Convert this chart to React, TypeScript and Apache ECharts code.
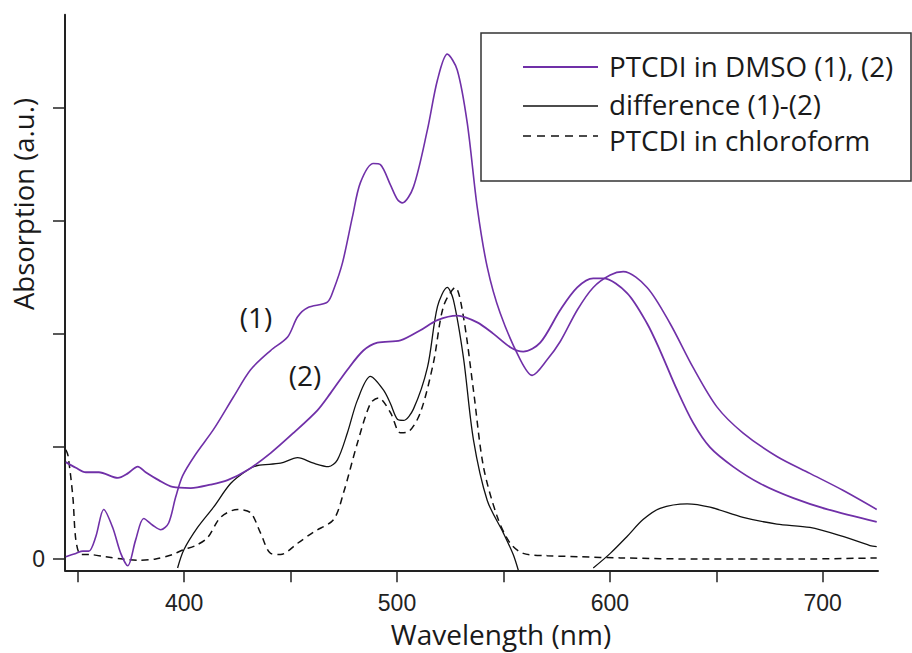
import React, { useEffect, useRef } from "react";
import * as echarts from "echarts";

// Wavelength (nm) / absorption (a.u.) pairs
const dmso1: [number, number][] = [
  [344.4, 0.02], [349.1, 0.05], [352.4, 0.07], [355.2, 0.07], [358.5, 0.2], [362.2, 0.44],
  [366.4, 0.28], [370.2, 0.05], [373.5, -0.06], [377.2, 0.17], [381.0, 0.36], [385.2, 0.3],
  [389.0, 0.26], [392.7, 0.32], [396.0, 0.55], [399.3, 0.74], [405.4, 0.93], [413.8, 1.15],
  [423.2, 1.44], [431.2, 1.68], [440.6, 1.85], [448.6, 1.97], [453.3, 2.15], [458.0, 2.23],
  [467.3, 2.28], [470.2, 2.39], [474.4, 2.63], [479.1, 3.04], [482.8, 3.34], [488.9, 3.51],
  [492.2, 3.5], [496.9, 3.32], [500.2, 3.19], [502.5, 3.16], [507.7, 3.3], [514.3, 3.81],
  [519.0, 4.25], [523.6, 4.48], [528.3, 4.34], [533.0, 3.87], [537.7, 3.12], [542.4, 2.59],
  [548.5, 2.18], [557.9, 1.77], [563.5, 1.63], [570.6, 1.77], [576.7, 1.93], [584.7, 2.21],
  [592.2, 2.41], [600.2, 2.52], [606.3, 2.55], [617.5, 2.41], [628.3, 2.09], [639.1, 1.7],
  [650.3, 1.35], [662.5, 1.12], [678.5, 0.91], [694.0, 0.76], [709.5, 0.61], [725.4, 0.44],
];

const dmso2: [number, number][] = [
  [344.4, 0.86], [349.1, 0.81], [353.8, 0.77], [359.9, 0.77], [368.8, 0.72], [373.5, 0.76],
  [378.2, 0.82], [381.9, 0.77], [388.0, 0.7], [394.6, 0.64], [403.1, 0.63], [412.4, 0.66],
  [420.4, 0.7], [429.8, 0.79], [440.6, 0.94], [451.4, 1.12], [462.6, 1.32], [468.7, 1.47],
  [476.7, 1.68], [484.2, 1.85], [490.8, 1.92], [501.6, 1.94], [511.0, 2.03], [519.0, 2.12],
  [528.3, 2.16], [537.7, 2.1], [545.2, 2.0], [553.2, 1.88], [559.3, 1.84], [567.3, 1.92],
  [576.7, 2.21], [584.7, 2.41], [592.2, 2.49], [596.9, 2.49], [608.1, 2.36], [617.5, 2.09],
  [623.6, 1.85], [631.6, 1.5], [639.1, 1.21], [647.1, 0.99], [657.9, 0.82], [670.6, 0.67],
  [686.3, 0.54], [702.3, 0.44], [725.4, 0.33],
];

const diffShort: [number, number][] = [
  [396.9, -0.08], [399.8, 0.08], [406.3, 0.28], [413.8, 0.46], [421.8, 0.67], [429.8, 0.79],
  [434.5, 0.83], [445.3, 0.85], [453.3, 0.9], [460.8, 0.85], [467.8, 0.82], [472.0, 0.88],
  [476.7, 1.12], [481.4, 1.41], [487.5, 1.62], [493.6, 1.5], [496.9, 1.38], [500.2, 1.24],
  [503.0, 1.23], [507.7, 1.33], [514.3, 1.7], [519.0, 2.24], [523.6, 2.41], [526.5, 2.3],
  [531.2, 1.79], [535.9, 1.06], [542.4, 0.52], [550.0, 0.23], [554.6, 0.04], [557.0, -0.1],
];

const diffLong: [number, number][] = [
  [592.2, -0.08], [600.2, 0.05], [608.1, 0.2], [615.6, 0.35], [623.6, 0.45], [636.3, 0.49],
  [647.1, 0.46], [662.6, 0.37], [678.5, 0.31], [694.0, 0.28], [709.5, 0.2], [722.2, 0.12],
  [725.4, 0.11],
];

const chloroform: [number, number][] = [
  [344.4, 0.97], [345.4, 0.92], [347.7, 0.55], [349.1, 0.17], [351.4, 0.04], [355.2, 0.04],
  [363.2, 0.02], [371.1, 0.0], [378.6, -0.01], [386.6, 0.0], [394.6, 0.04], [399.3, 0.08],
  [405.4, 0.12], [411.0, 0.19], [417.1, 0.37], [425.1, 0.44], [431.2, 0.41], [435.9, 0.23],
  [440.6, 0.05], [445.3, 0.04], [453.3, 0.14], [460.8, 0.24], [470.2, 0.35], [474.9, 0.59],
  [481.4, 1.03], [487.5, 1.38], [491.3, 1.43], [496.9, 1.3], [501.6, 1.12], [505.4, 1.13],
  [511.0, 1.3], [517.1, 1.74], [521.8, 2.24], [527.4, 2.41], [531.2, 2.15], [535.9, 1.5],
  [540.6, 0.82], [547.2, 0.37], [553.2, 0.14], [559.3, 0.05], [570.6, 0.03], [586.1, 0.02],
  [604.9, 0.01], [642.5, 0.0], [689.5, 0.0], [725.4, 0.01],
];

const xTicks = [350, 400, 450, 500, 550, 600, 650, 700];
const xLabels = [400, 500, 600, 700];
const yTicks = [0, 1, 2, 3, 4];
const yLabels = [0];

const legendNames = ["PTCDI in DMSO (1), (2)", "difference (1)-(2)", "PTCDI in chloroform"];
const curveTags = ["(1)", "(2)"];

const PURPLE = "#7030a8";
const INK = "#1a1a1a";
const TITLE_FONT = '"Open Sans", "Noto Sans", sans-serif';
const TICK_FONT = '"Liberation Sans", Arial, sans-serif';

export default function App() {
  const ref = useRef<HTMLDivElement>(null);

  useEffect(() => {
    document.body.style.margin = "0";
    if (!ref.current) return;
    const chart = echarts.init(ref.current, undefined, { renderer: "svg" });

    const lineSeries = (data: [number, number][], color: string, width: number, dash?: number[]) => ({
      type: "line",
      data,
      symbol: "none",
      showSymbol: false,
      smooth: 0.3,
      silent: true,
      lineStyle: { color, width, type: dash ? dash : "solid" },
    });

    const txt = (text: string, x: number, y: number, size: number, align: string, extra: any = {}) => ({
      type: "text",
      x,
      y,
      z: 100,
      ...extra,
      style: {
        text,
        fontSize: size,
        fontFamily: TITLE_FONT,
        lineHeight: size,
        fill: INK,
        align,
        textAlign: align,
        verticalAlign: "middle",
        textVerticalAlign: "middle",
      },
    });

    chart.setOption({
      animation: false,
      backgroundColor: "#ffffff",
      grid: { left: 65, right: 34, top: 14.7, bottom: 82.7, containLabel: false },
      xAxis: {
        type: "value",
        min: 344,
        max: 726,
        axisLine: { show: true, onZero: false, lineStyle: { color: "#222", width: 2 } },
        axisTick: { show: true, customValues: xTicks, length: 12, lineStyle: { color: "#222", width: 1.5 } },
        axisLabel: {
          show: true,
          customValues: xLabels,
          margin: 21,
          fontSize: 23,
          fontFamily: TICK_FONT,
          color: "#222",
        },
        splitLine: { show: false },
      },
      yAxis: {
        type: "value",
        min: -0.1,
        max: 4.83,
        axisLine: { show: true, onZero: false, lineStyle: { color: "#222", width: 2 } },
        axisTick: { show: true, customValues: yTicks, length: 12, lineStyle: { color: "#222", width: 1.5 } },
        axisLabel: {
          show: true,
          customValues: yLabels,
          margin: 20,
          fontSize: 23,
          fontFamily: TICK_FONT,
          color: "#222",
        },
        splitLine: { show: false },
      },
      series: [
        lineSeries(chloroform, "#111", 1.5, [7, 5]),
        lineSeries(diffShort, "#111", 1.3),
        lineSeries(diffLong, "#111", 1.3),
        lineSeries(dmso2, PURPLE, 1.8),
        lineSeries(dmso1, PURPLE, 1.6),
      ],
      graphic: [
        txt("Absorption (a.u.)", 23, 204, 27.5, "center", { rotation: Math.PI / 2 }),
        txt("Wavelength (nm)", 501, 634, 28, "center"),
        txt(curveTags[0], 256, 317, 28, "center"),
        txt(curveTags[1], 305, 375, 28, "center"),
        {
          type: "rect",
          z: 90,
          shape: { x: 481, y: 33, width: 430, height: 148 },
          style: { fill: "#ffffff", stroke: "#333", lineWidth: 1.5 },
        },
        {
          type: "line",
          z: 100,
          shape: { x1: 523, y1: 67, x2: 598, y2: 67 },
          style: { stroke: PURPLE, lineWidth: 1.8 },
        },
        {
          type: "line",
          z: 100,
          shape: { x1: 523, y1: 106, x2: 598, y2: 106 },
          style: { stroke: "#111", lineWidth: 1.5 },
        },
        {
          type: "line",
          z: 100,
          shape: { x1: 523, y1: 136, x2: 598, y2: 136 },
          style: { stroke: "#111", lineWidth: 1.5, lineDash: [8, 6] },
        },
        txt(legendNames[0], 609, 66, 27.8, "left"),
        txt(legendNames[1], 609, 104, 27.8, "left"),
        txt(legendNames[2], 609, 140, 27.8, "left"),
      ],
    });

    return () => chart.dispose();
  }, []);

  return <div ref={ref} style={{ width: 912, height: 653 }} />;
}
